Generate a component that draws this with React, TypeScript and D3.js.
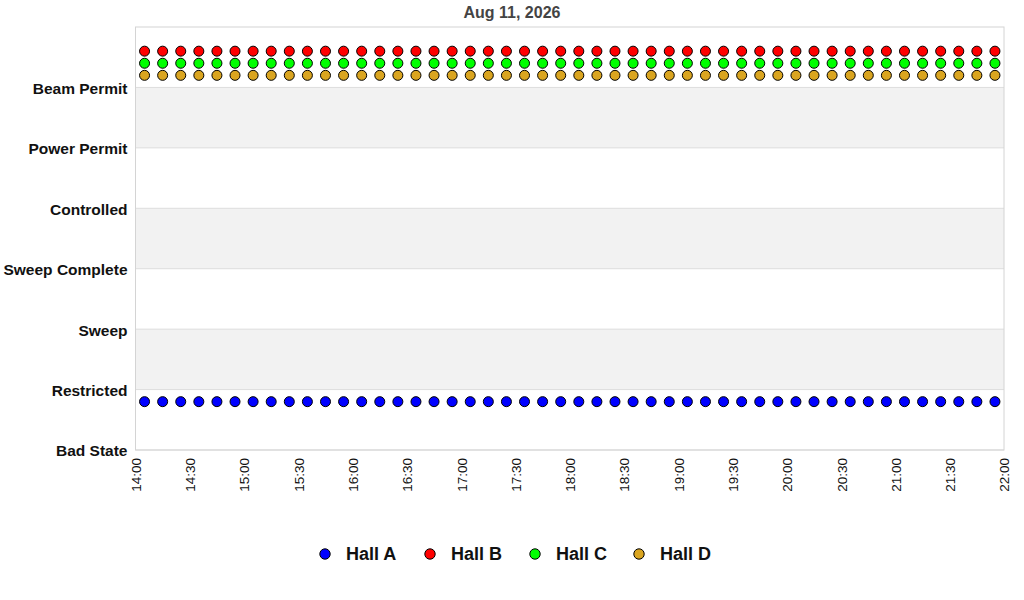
import * as d3 from 'd3'
import { useEffect, useRef } from 'react'

const title = 'Aug 11, 2026'
const states = ['Bad State', 'Restricted', 'Sweep', 'Sweep Complete', 'Controlled', 'Power Permit', 'Beam Permit']
const halls = ['Hall A', 'Hall B', 'Hall C', 'Hall D']
const colors = ['#0000ff', '#ff0000', '#00ff00', '#daa520']
const xTicks = ['14:00', '14:30', '15:00', '15:30', '16:00', '16:30', '17:00', '17:30', '18:00', '18:30',
  '19:00', '19:30', '20:00', '20:30', '21:00', '21:30', '22:00']
const times = ['14:05', '14:15', '14:25', '14:35', '14:45', '14:55', '15:05', '15:15', '15:25', '15:35', '15:45', '15:55',
  '16:05', '16:15', '16:25', '16:35', '16:45', '16:55', '17:05', '17:15', '17:25', '17:35', '17:45', '17:55',
  '18:05', '18:15', '18:25', '18:35', '18:45', '18:55', '19:05', '19:15', '19:25', '19:35', '19:45', '19:55',
  '20:05', '20:15', '20:25', '20:35', '20:45', '20:55', '21:05', '21:15', '21:25', '21:35', '21:45', '21:55']
// plotted level (state index + per-hall offset)
const hallA = [0.8, 0.8, 0.8, 0.8, 0.8, 0.8, 0.8, 0.8, 0.8, 0.8, 0.8, 0.8, 0.8, 0.8, 0.8, 0.8, 0.8, 0.8, 0.8, 0.8, 0.8, 0.8, 0.8, 0.8,
  0.8, 0.8, 0.8, 0.8, 0.8, 0.8, 0.8, 0.8, 0.8, 0.8, 0.8, 0.8, 0.8, 0.8, 0.8, 0.8, 0.8, 0.8, 0.8, 0.8, 0.8, 0.8, 0.8, 0.8]
const hallB = [6.6, 6.6, 6.6, 6.6, 6.6, 6.6, 6.6, 6.6, 6.6, 6.6, 6.6, 6.6, 6.6, 6.6, 6.6, 6.6, 6.6, 6.6, 6.6, 6.6, 6.6, 6.6, 6.6, 6.6,
  6.6, 6.6, 6.6, 6.6, 6.6, 6.6, 6.6, 6.6, 6.6, 6.6, 6.6, 6.6, 6.6, 6.6, 6.6, 6.6, 6.6, 6.6, 6.6, 6.6, 6.6, 6.6, 6.6, 6.6]
const hallC = [6.4, 6.4, 6.4, 6.4, 6.4, 6.4, 6.4, 6.4, 6.4, 6.4, 6.4, 6.4, 6.4, 6.4, 6.4, 6.4, 6.4, 6.4, 6.4, 6.4, 6.4, 6.4, 6.4, 6.4,
  6.4, 6.4, 6.4, 6.4, 6.4, 6.4, 6.4, 6.4, 6.4, 6.4, 6.4, 6.4, 6.4, 6.4, 6.4, 6.4, 6.4, 6.4, 6.4, 6.4, 6.4, 6.4, 6.4, 6.4]
const hallD = [6.2, 6.2, 6.2, 6.2, 6.2, 6.2, 6.2, 6.2, 6.2, 6.2, 6.2, 6.2, 6.2, 6.2, 6.2, 6.2, 6.2, 6.2, 6.2, 6.2, 6.2, 6.2, 6.2, 6.2,
  6.2, 6.2, 6.2, 6.2, 6.2, 6.2, 6.2, 6.2, 6.2, 6.2, 6.2, 6.2, 6.2, 6.2, 6.2, 6.2, 6.2, 6.2, 6.2, 6.2, 6.2, 6.2, 6.2, 6.2]

const App = () => {
  const ref = useRef<SVGSVGElement>(null)
  useEffect(() => {
    const width = 1024, height = 600
    const m = { top: 27, right: 20, bottom: 150, left: 135.5 }
    const svg = d3.select(ref.current).attr('width', width).attr('height', height)
    svg.selectAll('*').remove()
    const font = 'Liberation Sans, Arial, sans-serif'
    const parse = d3.timeParse('%Y-%m-%d %H:%M')
    const t = (s: string) => parse(`2026-08-11 ${s}`) as Date
    const x = d3.scaleTime().domain([t('14:00'), t('22:00')]).range([m.left, width - m.right])
    const y = d3.scaleLinear().domain([0, states.length]).range([height - m.bottom, m.top])

    // title
    svg.append('text').attr('x', width / 2).attr('y', 18).attr('text-anchor', 'middle')
      .attr('font-family', font).attr('font-weight', 'bold').attr('font-size', 16).attr('fill', '#444').text(title)

    const g = svg.append('g')
    // alternating bands
    g.selectAll('.band').data(d3.range(states.length + 1).filter(i => i % 2 === 0 && i > 0 && i < states.length))
      .enter().append('rect').attr('x', x.range()[0]).attr('width', x.range()[1] - x.range()[0])
      .attr('y', d => y(d)).attr('height', d => y(d - 1) - y(d)).attr('fill', '#f2f2f2')
    // grid lines
    g.selectAll('.grid').data(states.map((s, i) => i)).enter().append('line')
      .attr('x1', x.range()[0]).attr('x2', x.range()[1]).attr('y1', d => y(d)).attr('y2', d => y(d))
      .attr('stroke', '#dddddd')
    g.append('rect').attr('x', x.range()[0]).attr('y', m.top).attr('width', x.range()[1] - x.range()[0])
      .attr('height', y(0) - m.top).attr('fill', 'none').attr('stroke', '#d4d4d4')

    // y labels
    const yAxis = svg.append('g').attr('transform', `translate(${m.left},0)`)
      .call(d3.axisLeft(y).tickValues(states.map((s, i) => i)).tickSize(0).tickPadding(8)
        .tickFormat((d: any) => states[d as number]))
    yAxis.select('.domain').remove()
    yAxis.selectAll('text').attr('font-family', font).attr('font-weight', 'bold').attr('font-size', 15.5)
      .attr('fill', '#111').attr('dy', '0.38em')

    // x labels
    const xAxis = svg.append('g').attr('transform', `translate(0,${y(0)})`)
      .call(d3.axisBottom(x).tickValues(xTicks.map(t)).tickSize(0).tickFormat(d3.timeFormat('%H:%M') as any))
    xAxis.select('.domain').remove()
    xAxis.selectAll('text').attr('font-family', font).attr('font-size', 13.5).attr('fill', '#111')
      .attr('text-anchor', 'end').attr('transform', 'rotate(-90)').attr('x', -8).attr('y', 0).attr('dy', '0.36em')

    // points
    const series = [hallA, hallB, hallC, hallD]
    series.forEach((vals, k) => {
      g.selectAll(`.pt${k}`).data(vals).enter().append('circle')
        .attr('cx', (d, i) => x(t(times[i]))).attr('cy', d => y(d)).attr('r', 5)
        .attr('fill', colors[k]).attr('stroke', '#000').attr('stroke-width', 1)
    })

    // legend
    const lx = [325, 430, 535, 639]
    const lg = svg.append('g')
    halls.forEach((h, k) => {
      lg.append('circle').attr('cx', lx[k]).attr('cy', 554).attr('r', 5.2).attr('fill', colors[k])
        .attr('stroke', '#000').attr('stroke-width', 1)
      lg.append('text').attr('x', lx[k] + 21).attr('y', 560).attr('font-family', font).attr('font-weight', 'bold')
        .attr('font-size', 18).attr('fill', '#111').text(h)
    })
  }, [])
  return (
    <div style={{ position: 'absolute', left: 0, top: 0 }}>
      <svg ref={ref} />
    </div>
  )
}
export default App
